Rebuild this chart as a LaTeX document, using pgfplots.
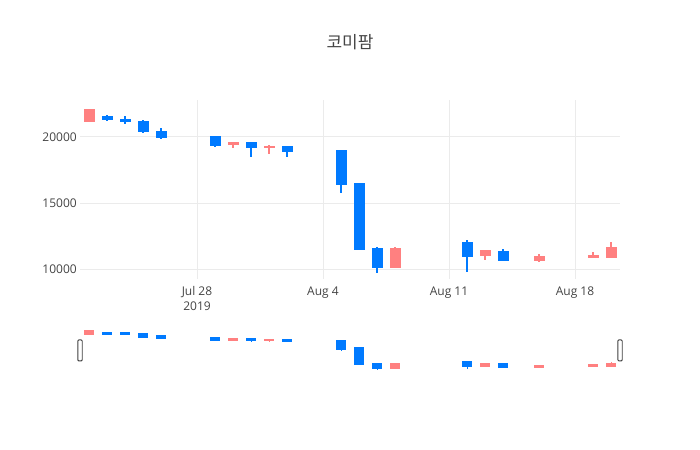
\documentclass[border=0pt]{standalone}
\usepackage{fontspec}
\setmainfont{Open Sans}
\newfontfamily\cjk{Noto Sans CJK KR}
\usepackage{pgfplots}
\pgfplotsset{compat=1.18}
\usepackage{pgfplotstable}

\definecolor{upc}{HTML}{FF8080}
\definecolor{downc}{HTML}{007AFF}
\definecolor{gridc}{HTML}{EBEBEB}
\definecolor{txt}{HTML}{444444}

% day = days after 2019-07-28
\pgfplotstableread{
day open high low close
-6 21100 22100 21100 22100
2  19400 19650 19150 19650
4  19150 19400 18750 19300
11 10150 11700 10150 11600
16 11050 11450 10750 11450
19 10650 11200 10550 11050
22 10900 11300 10900 11100
23 10900 12100 10900 11700
}\upT

\pgfplotstableread{
day open high low close
-5 21600 21650 21200 21250
-4 21350 21550 20950 21100
-3 21200 21250 20300 20350
-2 20450 20650 19850 19950
1  20050 20050 19250 19350
3  19650 19650 18500 19150
5  19300 19300 18500 18900
8  19050 19050 15750 16400
9  16550 16550 11500 11500
10 11650 11700 9770  10150
15 12100 12250 9850  10950
17 11400 11550 10650 10650
}\downT

% #1 table, #2 colour, #3 body width, #4 wick width, #5 outline pad (y units)
\newcommand\candles[5]{%
  \addplot[draw=none, mark=none, error bars/.cd, y dir=both, y explicit,
    error mark=none, error bar style={draw=#2, line width=#4}]
    table[x=day, y expr={(\thisrow{high}+\thisrow{low})/2},
      y error expr={(\thisrow{high}-\thisrow{low})/2}] {#1};
  \addplot[draw=none, mark=none, error bars/.cd, y dir=both, y explicit,
    error mark=none, error bar style={draw=#2, line width=#3}]
    table[x=day, y expr={(\thisrow{open}+\thisrow{close})/2},
      y error expr={abs(\thisrow{open}-\thisrow{close})/2+#5}] {#1};
}

\pgfplotsset{
  base/.style={
    scale only axis, width=540bp,
    xmin=-6.5, xmax=23.5,
    ymin=9300, ymax=22780,
    axis line style={draw=none}, tick style={draw=none},
    major tick length=0pt,
  },
}

\begin{document}
\begin{tikzpicture}
\path[use as bounding box] (0,0) rectangle (700bp,450bp);

\node[anchor=base, text=txt, font=\cjk\fontsize{17bp}{20bp}\selectfont]
  at (350bp,401bp) {코미팜};

\begin{axis}[base,
  at={(80bp,171bp)}, anchor=south west, height=179bp,
  xtick={0,7,14,21},
  xticklabels={{Jul 28\\2019},{Aug 4},{Aug 11},{Aug 18}},
  ytick={10000,15000,20000},
  scaled y ticks=false,
  xmajorgrids, ymajorgrids,
  grid style={draw=gridc, line width=1bp},
  /pgf/number format/assume math mode=true,
  /pgf/number format/1000 sep={},
  ticklabel style={font=\fontsize{12bp}{15bp}\selectfont, text=txt, inner sep=0pt},
  xticklabel style={align=center, anchor=north, yshift=-7.5bp},
  yticklabel style={anchor=east, xshift=-3bp},
]
\candles{\upT}{upc}{11bp}{1.8bp}{0}
\candles{\downT}{downc}{11bp}{1.8bp}{0}
\end{axis}

\begin{axis}[base,
  at={(80bp,79bp)}, anchor=south west, height=42bp,
  xtick=\empty, ytick=\empty, clip=false,
]
\candles{\upT}{upc}{10bp}{1bp}{320}
\candles{\downT}{downc}{10bp}{1bp}{320}
\draw[fill=white, draw=black!75, line width=0.9bp, rounded corners=1bp]
  ([xshift=-2.2bp]rel axis cs:0,0.24) rectangle ([xshift=2.2bp]rel axis cs:0,0.74);
\draw[fill=white, draw=black!75, line width=0.9bp, rounded corners=1bp]
  ([xshift=-2.2bp]rel axis cs:1,0.24) rectangle ([xshift=2.2bp]rel axis cs:1,0.74);
\end{axis}
\end{tikzpicture}
\end{document}
